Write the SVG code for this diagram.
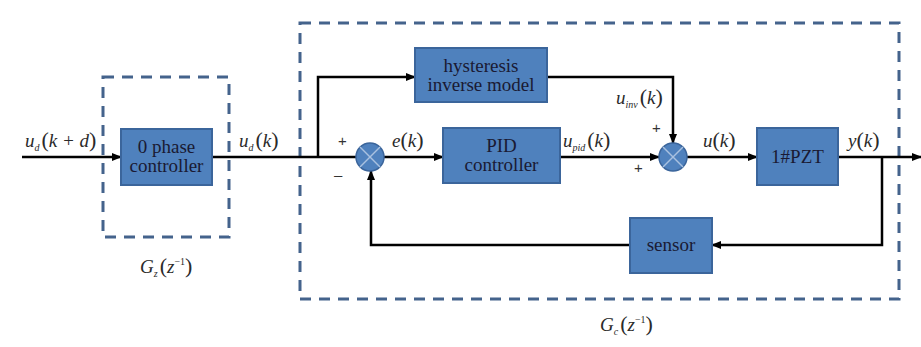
<svg xmlns="http://www.w3.org/2000/svg" width="921" height="347" viewBox="0 0 921 347">
<defs>
<marker id="ah" markerWidth="10" markerHeight="8" refX="9" refY="4" orient="auto" markerUnits="userSpaceOnUse">
<path d="M0,0 L10,4 L0,8 Z" fill="#000"/>
</marker>
<style>
.box{fill:#4f81bd;stroke:#3b659b;stroke-width:2}
.bt{font-family:'Liberation Serif','Times New Roman',serif;font-size:19px;fill:#1a1a33;text-anchor:middle}
.dash{fill:none;stroke:#44638c;stroke-width:3;stroke-dasharray:11 8}
.ln{fill:none;stroke:#000;stroke-width:2.5}
.lb{font-family:'Liberation Serif','Times New Roman',serif;font-size:19px;fill:#2a2a2a;font-style:italic}
.pr{font-style:normal;font-size:22px}
.sb{font-size:10px}
.sg{font-family:'Liberation Sans',sans-serif;font-size:15px;fill:#333}
.sj{fill:#4f81bd;stroke:#3b659b;stroke-width:1.5}
.sx{stroke:#a9c1e0;stroke-width:1.5}
</style>
</defs>
<rect width="921" height="347" fill="#fff"/>
<g id="frames">
<rect class="dash" x="103" y="77" width="126" height="160"/>
<rect class="dash" x="300" y="23" width="599" height="276"/>
</g>
<g id="connectors">
<line class="ln" x1="22" y1="157" x2="121" y2="157" marker-end="url(#ah)"/>
<line class="ln" x1="212" y1="157" x2="356" y2="157"/>
<polyline class="ln" points="318,157 318,77 415,77" marker-end="url(#ah)"/>
<line class="ln" x1="384" y1="157" x2="443" y2="157" marker-end="url(#ah)"/>
<line class="ln" x1="560" y1="157" x2="659" y2="157" marker-end="url(#ah)"/>
<polyline class="ln" points="547,77 673,77 673,143" marker-end="url(#ah)"/>
<line class="ln" x1="687" y1="157" x2="757" y2="157" marker-end="url(#ah)"/>
<line class="ln" x1="838" y1="157" x2="921" y2="157" marker-end="url(#ah)"/>
<polyline class="ln" points="882,157 882,245 712,245" marker-end="url(#ah)"/>
<polyline class="ln" points="630,245 371,245 371,171" marker-end="url(#ah)"/>
</g>
<g id="zero-phase">
<rect class="box" x="121" y="129" width="91" height="56"/>
<text class="bt" x="166.5" y="153">0 phase</text>
<text class="bt" x="166.5" y="172">controller</text>
</g>
<g id="hysteresis">
<rect class="box" x="415" y="48" width="132" height="54"/>
<text class="bt" x="481" y="72">hysteresis</text>
<text class="bt" x="481" y="91">inverse model</text>
</g>
<g id="pid">
<rect class="box" x="443" y="128" width="117" height="55"/>
<text class="bt" x="501.5" y="152">PID</text>
<text class="bt" x="501.5" y="171">controller</text>
</g>
<g id="pzt">
<rect class="box" x="757" y="128" width="81" height="57"/>
<text class="bt" x="797.5" y="163">1#PZT</text>
</g>
<g id="sensor">
<rect class="box" x="630" y="218" width="82" height="55"/>
<text class="bt" x="671" y="251">sensor</text>
</g>
<g id="sum1">
<circle class="sj" cx="370" cy="157" r="14"/>
<line class="sx" x1="360" y1="147" x2="380" y2="167"/>
<line class="sx" x1="380" y1="147" x2="360" y2="167"/>
</g>
<g id="sum2">
<circle class="sj" cx="673" cy="157" r="14"/>
<line class="sx" x1="663" y1="147" x2="683" y2="167"/>
<line class="sx" x1="683" y1="147" x2="663" y2="167"/>
</g>
<g id="labels">
<text class="lb" x="25" y="147">u<tspan class="sb" dy="4">d</tspan><tspan class="pr" dx="2" dy="-4">(</tspan>k + d<tspan class="pr">)</tspan></text>
<text class="lb" x="239" y="147">u<tspan class="sb" dy="4">d</tspan><tspan class="pr" dx="2" dy="-4">(</tspan>k<tspan class="pr">)</tspan></text>
<text class="lb" x="392" y="147">e<tspan class="pr">(</tspan>k<tspan class="pr">)</tspan></text>
<text class="lb" x="563" y="147">u<tspan class="sb" dy="4">pid</tspan><tspan class="pr" dx="2" dy="-4">(</tspan>k<tspan class="pr">)</tspan></text>
<text class="lb" x="616" y="104">u<tspan class="sb" dy="4">inv</tspan><tspan class="pr" dx="2" dy="-4">(</tspan>k<tspan class="pr">)</tspan></text>
<text class="lb" x="703" y="147">u<tspan class="pr">(</tspan>k<tspan class="pr">)</tspan></text>
<text class="lb" x="848" y="147">y<tspan class="pr">(</tspan>k<tspan class="pr">)</tspan></text>
<text class="lb" x="140" y="273">G<tspan class="sb" dy="4">z</tspan><tspan class="pr" dx="2" dy="-4">(</tspan>z<tspan class="sb" font-style="normal" dy="-8">−1</tspan><tspan class="pr" dy="8">)</tspan></text>
<text class="lb" x="600" y="331">G<tspan class="sb" dy="4">c</tspan><tspan class="pr" dx="2" dy="-4">(</tspan>z<tspan class="sb" font-style="normal" dy="-8">−1</tspan><tspan class="pr" dy="8">)</tspan></text>
<text class="sg" x="338" y="146">+</text>
<text class="sg" x="334" y="180">–</text>
<text class="sg" x="652" y="133">+</text>
<text class="sg" x="634" y="173">+</text>
</g>
</svg>
